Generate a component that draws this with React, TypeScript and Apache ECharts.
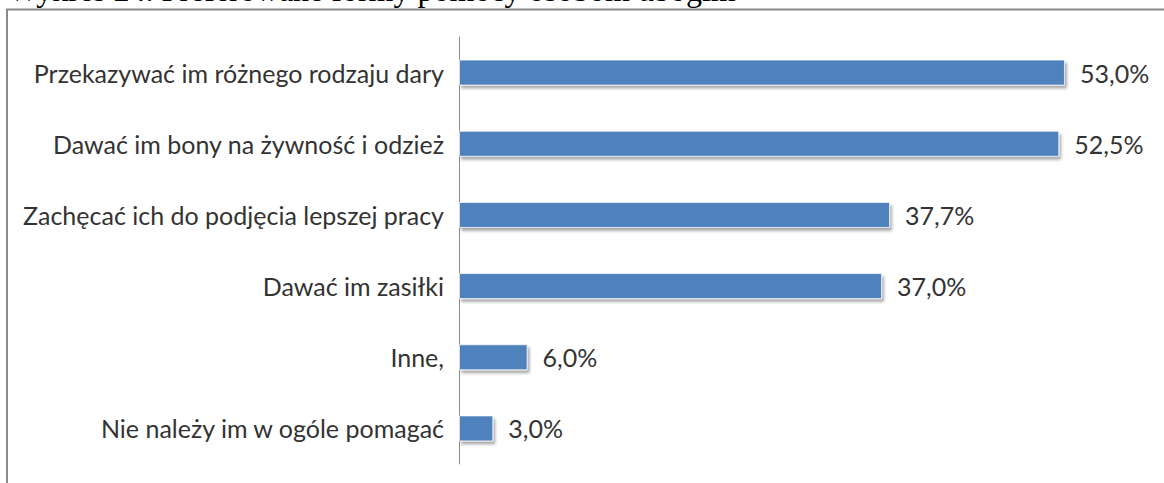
import React, { useEffect, useRef } from "react";
import * as echarts from "echarts";

const categories = [
  "Przekazywać im różnego rodzaju dary",
  "Dawać im bony na żywność i odzież",
  "Zachęcać ich do podjęcia lepszej pracy",
  "Dawać im zasiłki",
  "Inne,",
  "Nie należy im w ogóle pomagać",
];
const values = [53.0, 52.5, 37.7, 37.0, 6.0, 3.0];
const titleText = "Wykres 24. Preferowane formy pomocy osobom ubogim";

export default function App() {
  const ref = useRef<HTMLDivElement>(null);
  useEffect(() => {
    document.body.style.margin = "0";
    const chart = echarts.init(ref.current!, null, { renderer: "svg" });
    chart.setOption({
      animation: false,
      backgroundColor: "#ffffff",
      graphic: [
        {
          type: "text",
          x: 8,
          y: -10,
          style: {
            text: titleText,
            font: "32px 'Liberation Serif'",
            fill: "#000",
            verticalAlign: "middle",
            align: "left",
          },
        },
        {
          type: "rect",
          shape: { x: 7, y: 9.5, width: 1200, height: 520 },
          style: { fill: "none", stroke: "#8a8a8a", lineWidth: 2 },
        },
      ],
      grid: { left: 459, top: 37, width: 686, bottom: 19 },
      xAxis: {
        type: "value",
        min: 0,
        max: 60,
        show: false,
      },
      yAxis: {
        type: "category",
        data: categories,
        inverse: true,
        axisLine: { show: true, lineStyle: { color: "#8c8c8c", width: 1 } },
        axisTick: { show: false },
        axisLabel: {
          margin: 15,
          color: "#333333",
          fontFamily: "Lato",
          fontSize: 25,
        },
      },
      series: [
        {
          type: "bar",
          data: values,
          barWidth: 26,
          itemStyle: {
            color: "#4f81bd",
            borderColor: "rgba(255,255,255,0.7)",
            borderWidth: 1,
            shadowColor: "rgba(0,0,0,0.35)",
            shadowBlur: 3,
            shadowOffsetX: 2,
            shadowOffsetY: 3,
          },
          label: {
            show: true,
            position: "right",
            distance: 15,
            color: "#333333",
            fontFamily: "Lato",
            fontSize: 25,
            formatter: (p: any) => p.value.toFixed(1).replace(".", ",") + "%",
          },
        },
      ],
    });
    return () => chart.dispose();
  }, []);
  return (
    <div
      ref={ref}
      style={{ position: "absolute", left: 0, top: 0, width: 1164, height: 483 }}
    />
  );
}
